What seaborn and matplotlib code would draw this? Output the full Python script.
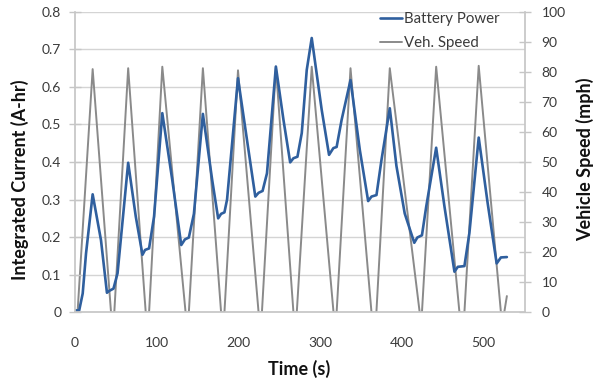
import matplotlib
matplotlib.use("Agg")
import matplotlib.pyplot as plt
import seaborn as sns
import pandas as pd
from matplotlib.lines import Line2D

# ---- data ----
batt_t = [0, 5, 9.3, 13.4, 21.5, 31.7, 39, 41.8, 47, 52, 65, 74.3, 82.5, 85.7, 90.6, 96.7,
          106.8, 119, 130, 134.5, 139.3, 145.5, 156.5, 167.9, 175.2, 178.8, 182.9, 186.1,
          199.5, 210.5, 220.7, 224.7, 229.6, 235, 245.9, 255.2, 263.4, 267.4, 272.3, 277.6,
          283.7, 289.8, 302, 311, 316.3, 320.3, 326.4, 337.3, 348.7, 358.9, 363, 369.1,
          375.2, 385.4, 393.5, 403.7, 415.4, 419.1, 424.8, 430, 442.2, 452.4, 464.6, 468.7,
          476.8, 482.9, 494.3, 505.3, 516.3, 521.5, 528.8]
batt_ah = [0.005, 0.005, 0.05, 0.157, 0.314, 0.192, 0.052, 0.057, 0.063, 0.104, 0.398, 0.255,
           0.153, 0.166, 0.17, 0.255, 0.53, 0.352, 0.179, 0.194, 0.199, 0.262, 0.528, 0.352,
           0.25, 0.262, 0.266, 0.3, 0.623, 0.459, 0.308, 0.318, 0.323, 0.37, 0.654, 0.512,
           0.399, 0.41, 0.414, 0.477, 0.645, 0.73, 0.539, 0.419, 0.437, 0.44, 0.512, 0.618,
           0.432, 0.296, 0.308, 0.312, 0.405, 0.543, 0.39, 0.263, 0.185, 0.199, 0.205, 0.281,
           0.438, 0.281, 0.108, 0.121, 0.123, 0.211, 0.465, 0.29, 0.13, 0.146, 0.147]

speed_t = [0, 3, 21.5, 44, 48, 65, 86.5, 90.6, 106.8, 135.3, 139.3, 156.5, 178.8, 182.9,
           199.5, 224.7, 228.8, 245.9, 267.4, 271.5, 289.8, 316.5, 320.3, 337.3, 363, 369,
           385.4, 422, 424.8, 442.2, 470.7, 476.8, 494.3, 521.5, 525.6, 528.8]
speed_mph = [0, 0, 80.9, 0, 0, 81.2, 0, 0, 81.7, 0, 0, 81.2, 0, 0, 80.5, 0, 0, 81.7, 0, 0,
             81.7, 0, 0, 81.2, 0, 0, 81.2, 0, 0, 81.7, 0, 0, 82, 0, 0, 5.4]

left_ticks = [0, 0.1, 0.2, 0.3, 0.4, 0.5, 0.6, 0.7, 0.8]
right_ticks = [0, 10, 20, 30, 40, 50, 60, 70, 80, 90, 100]
x_ticks = [0, 100, 200, 300, 400, 500]

sns.set_theme(style="white")
plt.rcParams['font.family'] = ['Lato', 'DejaVu Sans']

BLUE = "#2f5f9e"
GRAY = "#8a8a8a"
AXC = "#c6c6c6"
TXT = "#3a3a3a"

W, H = 595, 381
L, R, T, B = 75.1, 525, 11.7, 312.3
fig = plt.figure(figsize=(W / 100, H / 100), dpi=100)
ax = fig.add_axes([L / W, 1 - B / H, (R - L) / W, (B - T) / H])
ax2 = ax.twinx()

df_b = pd.DataFrame({"t": batt_t, "v": batt_ah})
df_s = pd.DataFrame({"t": speed_t, "v": speed_mph})

sns.lineplot(data=df_s, x="t", y="v", ax=ax2, color=GRAY, linewidth=1.4, sort=False)
sns.lineplot(data=df_b, x="t", y="v", ax=ax, color=BLUE, linewidth=1.9, sort=False)

ax.set_zorder(ax2.get_zorder() + 1)
ax.patch.set_visible(False)

ax.set_xlim(0, 551)
ax.set_ylim(0, 0.8)
ax2.set_ylim(0, 100)
ax.set_xticks(x_ticks)
ax.set_yticks(left_ticks)
ax.set_yticklabels(["0"] + [f"{v:.1f}" for v in left_ticks[1:]])
ax2.set_yticks(right_ticks)

for a in (ax, ax2):
    for s in a.spines.values():
        s.set_visible(False)
ax.spines['left'].set_visible(True)
ax.spines['bottom'].set_visible(True)
ax2.spines['right'].set_visible(True)
ax.spines['left'].set_color(AXC)
ax.spines['bottom'].set_color(AXC)
ax2.spines['right'].set_color(AXC)

ax2.grid(False)
ax.grid(False)
for yv in left_ticks[1:]:
    ax2.axhline(yv * 125, color="#d4d4d4", linewidth=1.0, zorder=0)

ax.tick_params(axis='y', direction='inout', length=9, width=1, color=AXC,
               labelsize=10, labelcolor=TXT, pad=5.5)
ax2.tick_params(axis='y', direction='inout', length=9, width=1, color=AXC,
                labelsize=10, labelcolor=TXT, pad=7.5)
ax.tick_params(axis='x', direction='out', length=4, width=1, color=AXC,
               labelsize=10, labelcolor=TXT, pad=14)

lab_kw = dict(fontsize=13, fontweight='bold', color="#111111")
ax.set_xlabel("Time (s)", **lab_kw)
ax.set_ylabel("Integrated Current (A-hr)", **lab_kw)
ax2.set_ylabel("Vehicle Speed (mph)", **lab_kw)
ax.xaxis.set_label_coords((299.5 - L) / (R - L), -(369 - B) / (B - T))
ax.xaxis.label.set_verticalalignment('center')
ax.yaxis.set_label_coords((20 - L) / (R - L), (B - 180) / (B - T))
ax.yaxis.label.set_verticalalignment('center')
ax2.yaxis.set_label_coords((585 - L) / (R - L), (B - 159) / (B - T))
ax2.yaxis.label.set_verticalalignment('center')

handles = [Line2D([0], [0], color=BLUE, lw=1.9), Line2D([0], [0], color=GRAY, lw=1.4)]
leg = fig.legend(handles, ["Battery Power", "Veh. Speed"], loc='center left',
                 bbox_to_anchor=(380 / W, 1 - 31 / H), bbox_transform=fig.transFigure,
                 frameon=False, fontsize=10.8, borderpad=0, borderaxespad=0,
                 handlelength=1.45, handletextpad=0.15, labelspacing=0.7)
for t in leg.get_texts():
    t.set_color(TXT)

fig.savefig("out.png", dpi=100)
